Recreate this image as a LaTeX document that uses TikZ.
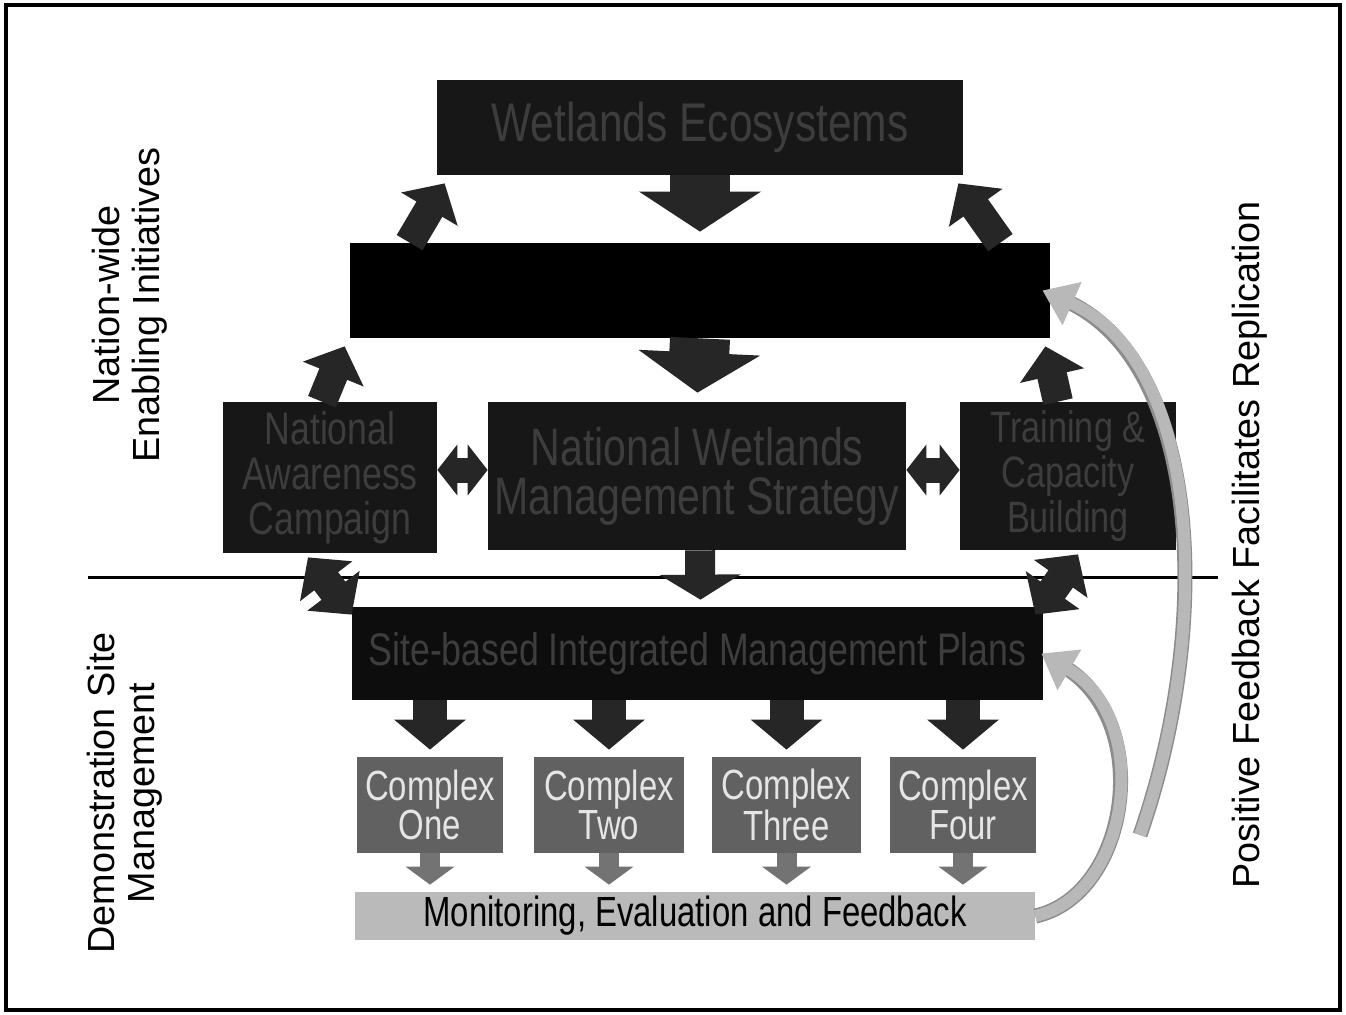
\documentclass[tikz,border=0pt]{standalone}
\usepackage{fontspec}
\setmainfont{Liberation Sans}
\newfontfamily\narrowfont[FakeStretch=0.78]{Liberation Sans}
\usetikzlibrary{arrows.meta,calc}
\def\pxu{0.2mm}
\begin{document}
\begin{tikzpicture}[x=0.2mm,y=-0.2mm,
  box/.style={rectangle, inner sep=0pt, align=center, font=\narrowfont\fontsize{24}{22}\selectfont},
  darkbox/.style={box, fill=black!91, text=black!76},
  blackbox/.style={box, fill=black},
  cbox/.style={box, fill=black!62, text=black!10},
  mbox/.style={box, fill=black!27, text=black},
  sidelabel/.style={rotate=90, align=center, font=\fontsize{21.5}{23}\selectfont},
  bigarrow/.style={draw=black!85, line width=12mm, -{Triangle[width=24mm,length=8mm]}},
  midarrow/.style={draw=black!85, line width=6mm, -{Triangle[width=16mm,length=5mm]}},
  siteArrow/.style={draw=black!85, line width=6.8mm, -{Triangle[width=14mm,length=6mm]}},
  smallarrow/.style={draw=black!55, line width=4mm, -{Triangle[width=9.6mm,length=3.6mm]}},
  diagarrow/.style={draw=black!85, line width=6mm, -{Triangle[width=12.8mm,length=6mm]}},
  diagdouble/.style={draw=black!85, line width=6mm, {Triangle[width=12.8mm,length=6mm]}-{Triangle[width=12.8mm,length=6mm]}},
  hdouble/.style={draw=black!85, line width=5mm, {Triangle[width=10mm,length=4mm]}-{Triangle[width=10mm,length=4mm]}},
  feedback/.style={draw=black!28, line width=2.4mm, -{Triangle[width=9mm,length=6.5mm]},
    preaction={draw=black!45, line width=3mm, shorten >=5mm, arrows=-}}
]
\useasboundingbox (0,0) rectangle (1346,1015);
\fill[white] (0,0) rectangle (1346,1015);
\draw[line width=0.8mm] (6,5) rectangle (1340,1010);

% divider line
\coordinate (divL) at (88,577);
\coordinate (divR) at (1218,577);
\draw[line width=0.6mm] (divL) -- (divR);

% boxes
\node[darkbox, font=\narrowfont\fontsize{31}{31}\selectfont, minimum width=526*\pxu, minimum height=95*\pxu] (top) at (700,127.5) {Wetlands Ecosystems};
\node[blackbox, minimum width=700*\pxu, minimum height=95*\pxu] (plan) at (700,290.5) {};
\node[darkbox, font=\narrowfont\fontsize{26}{25.5}\selectfont, minimum width=214*\pxu, minimum height=151*\pxu] (nac) at (330,477.5) {National\\Awareness\\Campaign};
\node[darkbox, font=\narrowfont\fontsize{30}{28}\selectfont, minimum width=418*\pxu, minimum height=148*\pxu] (nwms) at (697,476) {National Wetlands\\Management Strategy};
\node[darkbox, font=\narrowfont\fontsize{25}{25.5}\selectfont, minimum width=216*\pxu, minimum height=148*\pxu] (tcb) at (1068,476) {Training \&\\Capacity\\Building};
\node[darkbox, fill=black!95, font=\narrowfont\fontsize{26}{26}\selectfont, minimum width=691*\pxu, minimum height=93*\pxu] (smp) at (697.5,653.5) {Site-based Integrated Management Plans};
\node[cbox, minimum width=146*\pxu, minimum height=96*\pxu] (c1) at (430,805) {Complex\\One};
\node[cbox, minimum width=150*\pxu, minimum height=96*\pxu] (c2) at (609,805) {Complex\\Two};
\node[cbox, minimum width=149*\pxu, minimum height=96*\pxu] (c3) at (786.5,805) {Complex\\Three};
\node[cbox, minimum width=146*\pxu, minimum height=96*\pxu] (c4) at (963,805) {Complex\\Four};
\node[mbox, minimum width=680*\pxu, minimum height=48*\pxu] (mef) at (695,916) {Monitoring, Evaluation and Feedback};

% side labels
\node[sidelabel] (nwi) at (130,305) {Nation-wide\\Enabling Initiatives};
\node[sidelabel] (dsm) at (125,793) {Demonstration Site\\Management};
\node[sidelabel] (pff) at (1250,545) {Positive Feedback Facilitates Replication};

% vertical main arrows
\draw[bigarrow, shorten >=11*\pxu] (top.south) -- (plan.north);
\draw[bigarrow, shorten >=9*\pxu] (plan.south) -- (nwms.north);
\draw[midarrow, shorten >=7*\pxu] ([xshift=3*\pxu]nwms.south) -- ([xshift=3*\pxu]smp.north);
\foreach \c in {c1,c2,c3,c4}{
  \draw[siteArrow, shorten >=7*\pxu] (smp.south -| \c.north) -- (\c.north);
  \draw[smallarrow, shorten >=7*\pxu] (\c.south) -- (mef.north -| \c.south);
}

% horizontal double arrows
\draw[hdouble] (nac.east |- 0,470) -- (nwms.west |- 0,470);
\draw[hdouble] (nwms.east |- 0,470) -- (tcb.west |- 0,470);

% diagonal arrows
\draw[diagarrow] ([xshift=60*\pxu]plan.north west) -- ([xshift=8*\pxu,yshift=-8*\pxu]top.south west);
\draw[diagarrow] ([xshift=-50*\pxu]plan.north east) -- ([xshift=-5*\pxu,yshift=-8*\pxu]top.south east);
\draw[diagarrow] ([xshift=-8*\pxu]nac.north) -- ([xshift=-5*\pxu,yshift=-8*\pxu]plan.south west);
\draw[diagarrow] ([xshift=-10*\pxu]tcb.north) -- ([xshift=-5*\pxu,yshift=-8*\pxu]plan.south east);
\draw[diagdouble] ([xshift=-22*\pxu,yshift=-4*\pxu]nac.south) -- ([xshift=0*\pxu,yshift=-8*\pxu]smp.north west);
\draw[diagdouble] ([xshift=10*\pxu,yshift=-4*\pxu]tcb.south) -- ([xshift=-8*\pxu,yshift=-8*\pxu]smp.north east);

% feedback arrows
\coordinate (fbsplit) at (1140,835);
\draw[feedback] (mef.east) .. controls (1130,895) and (1155,720) .. ([xshift=-2*\pxu]smp.east);
\draw[feedback] (fbsplit) .. controls (1215,620) and (1200,360) .. ([xshift=-8*\pxu]plan.east);
\end{tikzpicture}
\end{document}
